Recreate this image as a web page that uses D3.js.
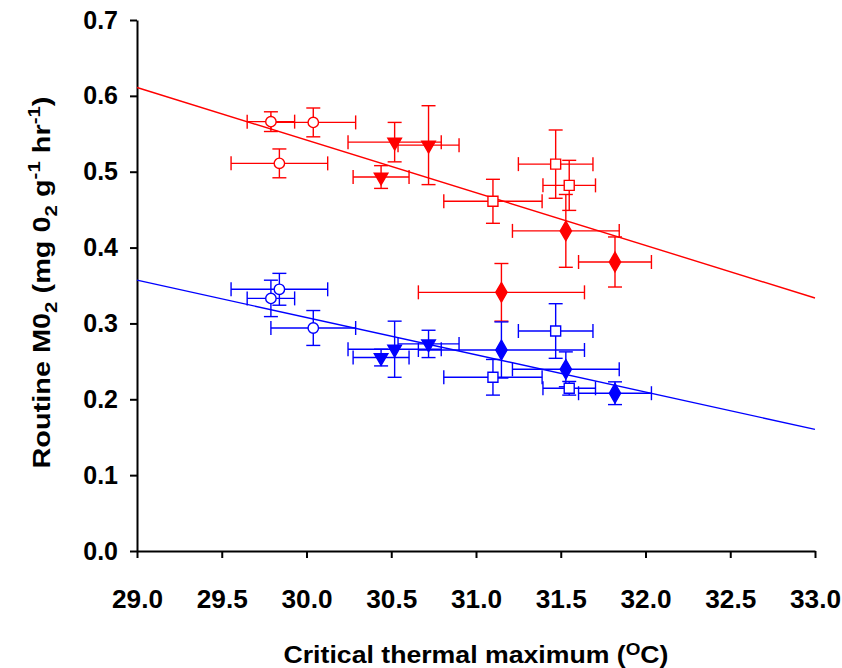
<!DOCTYPE html>
<html>
<head>
<meta charset="utf-8">
<script src="https://cdn.jsdelivr.net/npm/d3@7"></script>
<style>
  body { margin: 0; background: #fff; }
  text { font-family: "Liberation Sans", Arial, sans-serif; font-weight: bold; fill: #000; }
</style>
</head>
<body>
<div id="chart"></div>
<script>
// critical thermal maximum (shared by both groups) and its error
const ctmax    = [29.79, 30.04, 29.84, 30.52, 30.72, 30.44, 31.47, 31.55, 31.10, 31.53, 31.82, 31.15];
const ctmaxErr = [0.14, 0.25, 0.285, 0.275, 0.18, 0.165, 0.22, 0.155, 0.29, 0.315, 0.215, 0.49];
const shapes   = ['circle', 'circle', 'circle', 'triangle', 'triangle', 'triangle',
                  'square', 'square', 'square', 'diamond', 'diamond', 'diamond'];

// routine MO2, upper (red) and lower (blue) groups
const redMO2     = [0.566, 0.565, 0.511, 0.539, 0.535, 0.493, 0.510, 0.482, 0.461, 0.422, 0.381, 0.341];
const redMO2Err  = [0.013, 0.019, 0.019, 0.026, 0.052, 0.015, 0.045, 0.033, 0.029, 0.048, 0.033, 0.038];
const blueMO2    = [0.333, 0.294, 0.345, 0.266, 0.273, 0.255, 0.290, 0.2145, 0.229, 0.2395, 0.208, 0.265];
const blueMO2Err = [0.024, 0.023, 0.021, 0.037, 0.018, 0.011, 0.036, 0.009, 0.0235, 0.023, 0.015, 0.037];

// regression lines, value at each end of the x axis
const fitX    = [29.0, 33.0];
const redFit  = [0.611, 0.3335];
const blueFit = [0.357, 0.1604];

const xTicks = [29.0, 29.5, 30.0, 30.5, 31.0, 31.5, 32.0, 32.5, 33.0];
const yTicks = [0.0, 0.1, 0.2, 0.3, 0.4, 0.5, 0.6, 0.7];

const margin = { top: 20, right: 27, bottom: 117, left: 137 };
const width = 842 - margin.left - margin.right;
const height = 668 - margin.top - margin.bottom;

const svg = d3.select('#chart')
    .append('svg')
    .attr('width', 842)
    .attr('height', 668)
    .append('g')
    .attr('transform', `translate(${margin.left}, ${margin.top})`);

const xScale = d3.scaleLinear().domain([29, 33]).range([0, width]);
const yScale = d3.scaleLinear().domain([0, 0.7]).range([height, 0]);

const xAxis = d3.axisBottom(xScale)
    .tickValues(xTicks)
    .tickSize(7)
    .tickSizeOuter(0)
    .tickPadding(32)
    .tickFormat(d3.format('.1f'));

const yAxis = d3.axisLeft(yScale)
    .tickValues(yTicks)
    .tickSize(7)
    .tickSizeOuter(0)
    .tickPadding(12)
    .tickFormat(d3.format('.1f'));

const gx = svg.append('g')
    .attr('transform', `translate(0, ${height})`)
    .call(xAxis);
const gy = svg.append('g').call(yAxis);

[gx, gy].forEach(g => {
    g.selectAll('path, line').attr('stroke', '#000').attr('stroke-width', 2);
    g.selectAll('text')
        .attr('fill', '#000')
        .style('font-family', '"Liberation Sans", Arial, sans-serif')
        .style('font-weight', 'bold')
        .style('font-size', '25px');
});
gx.selectAll('text').attr('textLength', 51).attr('lengthAdjust', 'spacingAndGlyphs');

// regression lines
const line = d3.line().x(d => xScale(d[0])).y(d => yScale(d[1]));
svg.append('path')
    .datum(d3.zip(fitX, redFit))
    .attr('d', line).attr('fill', 'none').attr('stroke', '#ff0000').attr('stroke-width', 1.4);
svg.append('path')
    .datum(d3.zip(fitX, blueFit))
    .attr('d', line).attr('fill', 'none').attr('stroke', '#0000ff').attr('stroke-width', 1.4);

const cap = 7;
function drawSeries(values, errs, color) {
    const pts = values.map((v, i) => ({ x: ctmax[i], xe: ctmaxErr[i], y: v, ye: errs[i], shape: shapes[i] }));
    const g = svg.append('g');
    const eb = g.selectAll('.err').data(pts).enter().append('g')
        .attr('stroke', color).attr('stroke-width', 1.4).attr('fill', 'none');
    // horizontal
    eb.append('line')
        .attr('x1', d => xScale(d.x - d.xe)).attr('x2', d => xScale(d.x + d.xe))
        .attr('y1', d => yScale(d.y)).attr('y2', d => yScale(d.y));
    eb.append('line')
        .attr('x1', d => xScale(d.x - d.xe)).attr('x2', d => xScale(d.x - d.xe))
        .attr('y1', d => yScale(d.y) - cap).attr('y2', d => yScale(d.y) + cap);
    eb.append('line')
        .attr('x1', d => xScale(d.x + d.xe)).attr('x2', d => xScale(d.x + d.xe))
        .attr('y1', d => yScale(d.y) - cap).attr('y2', d => yScale(d.y) + cap);
    // vertical
    eb.append('line')
        .attr('x1', d => xScale(d.x)).attr('x2', d => xScale(d.x))
        .attr('y1', d => yScale(d.y - d.ye)).attr('y2', d => yScale(d.y + d.ye));
    eb.append('line')
        .attr('x1', d => xScale(d.x) - cap).attr('x2', d => xScale(d.x) + cap)
        .attr('y1', d => yScale(d.y - d.ye)).attr('y2', d => yScale(d.y - d.ye));
    eb.append('line')
        .attr('x1', d => xScale(d.x) - cap).attr('x2', d => xScale(d.x) + cap)
        .attr('y1', d => yScale(d.y + d.ye)).attr('y2', d => yScale(d.y + d.ye));

    const symbols = {
        circle: d3.symbol().type(d3.symbolCircle).size(85),
        square: d3.symbol().type(d3.symbolSquare).size(100),
        diamond: d3.symbol().type(d3.symbolDiamond).size(110),
        triangle: d3.symbol().type(d3.symbolTriangle).size(80)
    };
    g.selectAll('.pt').data(pts).enter().append('path')
        .attr('d', d => symbols[d.shape]())
        .attr('transform', d => `translate(${xScale(d.x)}, ${yScale(d.y)})` + (d.shape === 'triangle' ? ' rotate(180)' : ''))
        .attr('fill', d => (d.shape === 'circle' || d.shape === 'square') ? '#fff' : color)
        .attr('stroke', color)
        .attr('stroke-width', 1.4);
}

drawSeries(redMO2, redMO2Err, '#ff0000');
drawSeries(blueMO2, blueMO2Err, '#0000ff');

// axis titles
svg.append('text')
    .attr('x', width / 2)
    .attr('y', height + 112)
    .attr('text-anchor', 'middle')
    .style('font-size', '24px')
    .attr('textLength', 385).attr('lengthAdjust', 'spacingAndGlyphs')
    .call(t => {
        t.append('tspan').text('Critical thermal maximum (');
        t.append('tspan').attr('dy', -8).style('font-size', '17px').text('O');
        t.append('tspan').attr('dy', 8).text('C)');
    });

svg.append('text')
    .attr('transform', `translate(${-87}, ${height / 2 - 3}) rotate(-90)`)
    .attr('text-anchor', 'middle')
    .style('font-size', '24px')
    .attr('textLength', 372).attr('lengthAdjust', 'spacingAndGlyphs')
    .call(t => {
        t.append('tspan').text('Routine M0');
        t.append('tspan').attr('dy', 7).style('font-size', '17px').text('2');
        t.append('tspan').attr('dy', -7).text(' (mg 0');
        t.append('tspan').attr('dy', 7).style('font-size', '17px').text('2');
        t.append('tspan').attr('dy', -7).text(' g');
        t.append('tspan').attr('dy', -10).style('font-size', '17px').text('-1');
        t.append('tspan').attr('dy', 10).text(' hr');
        t.append('tspan').attr('dy', -10).style('font-size', '17px').text('-1');
        t.append('tspan').attr('dy', 10).text(')');
    });
</script>
</body>
</html>
